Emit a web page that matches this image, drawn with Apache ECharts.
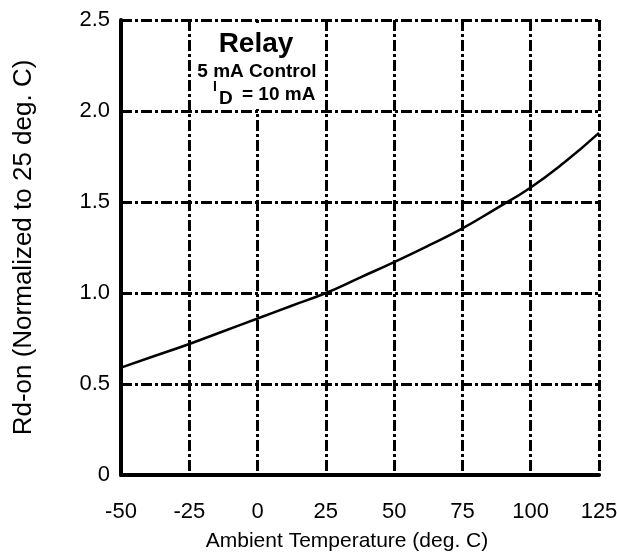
<!DOCTYPE html>
<html>
<head>
<meta charset="utf-8">
<script src="https://cdn.jsdelivr.net/npm/echarts@6/dist/echarts.min.js"></script>
<style>
html,body{margin:0;padding:0;background:#fff;}
#c{width:617px;height:555px;}
</style>
</head>
<body>
<div id="c"></div>
<script>
const temperatures = [-50, -37.5, -25, -12.5, 0, 12.5, 25, 37.5, 50, 62.5, 75, 87.5, 100, 112.5, 125];
const rdOn = [0.59, 0.655, 0.72, 0.79, 0.86, 0.93, 1.00, 1.085, 1.17, 1.26, 1.355, 1.465, 1.58, 1.72, 1.88];
const xTicks = [-50, -25, 0, 25, 50, 75, 100, 125];
const yTicks = [0, 0.5, 1.0, 1.5, 2.0, 2.5];
const xTitle = 'Ambient Temperature (deg. C)';
const yTitle = 'Rd-on (Normalized to 25 deg. C)';
const noteTitle = 'Relay';
const noteLine1 = '5 mA Control';
const noteI = 'I';
const noteSub = 'D';
const noteRest = '= 10 mA';

const FONT = '"Liberation Sans", Arial, sans-serif';
const chart = echarts.init(document.getElementById('c'), null, {renderer: 'canvas'});

const gridLine = {show: true, lineStyle: {color: '#000', width: 3, type: [11, 3, 3, 3]}};

chart.setOption({
  animation: false,
  backgroundColor: '#fff',
  grid: {left: 121, right: 18, top: 20, bottom: 80, containLabel: false, outerBoundsMode: 'none'},
  xAxis: {
    type: 'value', min: xTicks[0], max: xTicks[xTicks.length - 1], interval: 25,
    axisLine: {show: true, onZero: false, lineStyle: {color: '#000', width: 4}},
    axisTick: {show: false},
    splitLine: gridLine,
    axisLabel: {color: '#000', fontFamily: FONT, fontSize: 22, margin: 26, showMaxLabel: true, showMinLabel: true, hideOverlap: false},
    name: xTitle, nameLocation: 'middle', nameGap: 56,
    nameTextStyle: {color: '#000', fontFamily: FONT, fontSize: 21, padding: [0, 26, 0, 0]}
  },
  yAxis: {
    type: 'value', min: yTicks[0], max: yTicks[yTicks.length - 1], interval: 0.5,
    axisLine: {show: true, onZero: false, lineStyle: {color: '#000', width: 4}},
    axisTick: {show: false},
    splitLine: gridLine,
    axisLabel: {color: '#000', fontFamily: FONT, fontSize: 22, margin: 11,
      formatter: v => (v === 0 ? '0' : v.toFixed(1))},
    name: yTitle, nameLocation: 'middle', nameGap: 84, nameRotate: 90,
    nameTextStyle: {color: '#000', fontFamily: FONT, fontSize: 26}
  },
  series: [{
    type: 'line', smooth: true, showSymbol: false, z: 5,
    data: temperatures.map((t, i) => [t, rdOn[i]]),
    lineStyle: {color: '#000', width: 2.5}
  }]
});

const p1 = chart.convertToPixel({gridIndex: 0}, [-25, 2.5]);
const p2 = chart.convertToPixel({gridIndex: 0}, [25, 2.0]);
chart.setOption({
  graphic: [
    {type: 'rect', z: 100, shape: {x: p1[0] + 3, y: p1[1] + 3, width: p2[0] - p1[0] - 6, height: p2[1] - p1[1] - 5},
      style: {fill: '#fff'}},
    {type: 'text', z: 101, x: 256, y: 44, style: {text: noteTitle, font: 'bold 28px ' + FONT, fill: '#000', align: 'center', verticalAlign: 'middle'}},
    {type: 'text', z: 101, x: 257, y: 72, style: {text: noteLine1, font: 'bold 19px ' + FONT, fill: '#000', align: 'center', verticalAlign: 'middle'}},
    {type: 'text', z: 101, x: 213, y: 87, style: {text: noteI, font: 'bold 14px ' + FONT, fill: '#000', align: 'left', verticalAlign: 'middle'}},
    {type: 'text', z: 101, x: 219, y: 99, style: {text: noteSub, font: 'bold 19px ' + FONT, fill: '#000', align: 'left', verticalAlign: 'middle'}},
    {type: 'text', z: 101, x: 242, y: 95, style: {text: noteRest, font: 'bold 19px ' + FONT, fill: '#000', align: 'left', verticalAlign: 'middle'}}
  ]
});
</script>
</body>
</html>
